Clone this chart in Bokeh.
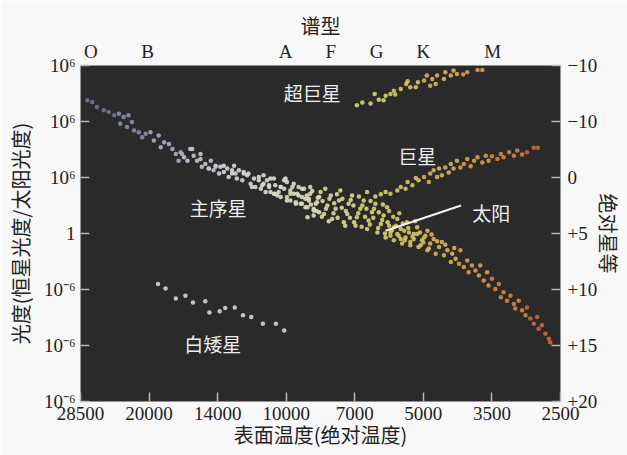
from bokeh.plotting import figure
from bokeh.models import ColumnDataSource, FixedTicker, LinearAxis, Range1d, Label
from bokeh.transform import linear_cmap
from bokeh.embed import file_html
from bokeh.resources import INLINE

# ---------------- data ----------------
temp_ticks = [0, 1, 2, 3, 4, 5, 6, 7]
temp_labels = ["28500", "20000", "14000", "10000", "7000", "5000", "3500", "2500"]
lum_ticks = [0, 1, 2, 3, 4, 5, 6]
lum_labels = ["10⁻⁶", "10⁻⁶", "10⁻⁶", "1", "10⁶", "10⁶", "10⁶"]
mag_labels = ["+20", "+15", "+10", "+5", "0", "−10", "−10"]
spec_classes = ["O", "B", "A", "F", "G", "K", "M"]
spec_pos = [0.15, 0.98, 2.99, 3.65, 4.32, 5.0, 6.01]

# main sequence
ms_x = [0.10, 0.17, 0.24, 0.34, 0.41, 0.49, 0.56, 0.63, 0.70, 0.58, 0.68, 0.75, 0.78, 0.85, 0.90, 0.95,
        1.02, 1.07, 1.14, 1.17, 1.22, 1.29, 1.34, 1.39, 1.46, 1.43, 1.51, 1.56, 1.60, 1.65, 1.70, 1.75,
        1.77, 1.82, 1.87, 1.90, 1.94, 1.97, 2.02, 2.04, 2.09, 2.14, 2.16, 2.21, 2.24, 2.28, 2.31, 2.36,
        2.38, 2.43, 2.48, 2.53, 2.55, 2.60, 2.63, 2.67, 2.70, 2.75, 2.77, 2.82, 2.84, 2.89, 2.92, 2.97,
        2.99, 3.01, 3.06, 3.09, 3.14, 3.16, 3.21, 3.23, 3.26, 3.31, 3.33, 3.35, 3.40, 3.43, 3.48, 3.48,
        3.40, 3.31,
        1.48, 1.63, 1.75, 1.87, 1.97, 2.09, 2.21, 2.26, 2.38, 2.45, 2.50, 2.60, 2.65, 2.72, 2.77, 2.87,
        2.92, 3.01, 3.06, 3.11, 3.18, 3.23, 3.28,
        2.67, 2.75, 2.82, 2.84, 2.92, 2.97, 3.01, 3.06, 3.11, 3.14, 3.18, 3.23, 3.28, 3.33, 3.35, 3.40,
        3.45, 3.50, 3.55, 3.60, 3.65, 3.67, 3.72, 3.77, 3.79, 3.84, 3.89, 3.91, 3.96, 4.01, 4.03, 4.08,
        4.13, 4.18, 4.20, 4.25, 4.30, 4.33, 4.38, 4.42, 4.47, 4.52, 4.57, 4.62, 4.67, 4.72, 4.76, 4.81,
        4.86, 4.91, 4.96, 5.01, 5.06, 5.08,
        4.45, 4.50, 4.52, 4.57, 4.62, 4.67, 4.69, 4.74, 4.79, 4.81, 4.86, 4.91, 4.93, 4.98, 5.03, 5.06,
        5.10, 5.15, 5.18, 5.23, 5.27, 5.30, 5.35, 5.40, 5.42, 5.47, 5.52, 5.54, 5.59, 5.64, 5.66, 5.71,
        5.76, 5.81, 5.83, 5.88, 5.93, 5.95, 6.00, 6.05, 6.10, 6.13, 6.17, 6.22, 6.27, 6.32, 6.34, 6.39,
        6.44, 6.49, 6.51, 6.56, 6.61, 6.66, 6.68, 6.73, 6.78, 6.83, 6.85,
        3.30, 3.36, 3.38, 3.44, 3.46, 3.52, 3.53, 3.57, 3.58, 3.62, 3.63, 3.69, 3.70, 3.74, 3.75, 3.81,
        3.82, 3.86, 3.87, 3.93, 3.94, 3.98, 3.99, 4.05, 4.06, 4.10, 4.11, 4.15, 4.17, 4.22, 4.23, 4.27,
        4.28, 4.34, 4.35, 4.40, 4.41, 4.44, 4.48, 4.50, 4.54, 4.56, 4.60, 4.64, 4.65, 4.70, 4.73, 4.78,
        4.84, 4.88, 4.95, 5.00, 5.12, 5.20, 5.32, 5.45]
ms_y = [5.38, 5.35, 5.26, 5.20, 5.17, 5.11, 5.14, 5.08, 5.11, 4.96, 4.90, 4.99, 4.84, 4.81, 4.72, 4.78,
        4.81, 4.66, 4.75, 4.54, 4.63, 4.60, 4.51, 4.42, 4.45, 4.30, 4.36, 4.30, 4.51, 4.39, 4.30, 4.33,
        4.19, 4.24, 4.16, 4.30, 4.13, 4.21, 4.07, 4.19, 4.10, 4.16, 4.01, 4.07, 4.21, 3.98, 4.13, 3.95,
        4.07, 4.04, 3.89, 3.98, 3.83, 3.95, 3.80, 3.89, 3.74, 3.83, 3.98, 3.71, 3.86, 3.74, 3.65, 3.80,
        3.98, 3.59, 3.71, 3.83, 3.56, 3.71, 3.53, 3.65, 3.80, 3.47, 3.59, 3.71, 3.44, 3.53, 3.65, 3.38,
        3.32, 3.29,
        4.42, 4.51, 4.42, 4.16, 4.19, 4.21, 4.13, 4.07, 4.10, 4.07, 3.83, 4.01, 3.86, 3.95, 3.74, 3.68,
        3.83, 3.92, 3.59, 3.71, 3.83, 3.53, 3.62,
        4.04, 3.86, 3.98, 3.71, 3.83, 3.95, 3.65, 3.77, 3.89, 3.53, 3.68, 3.80, 3.47, 3.62, 3.83, 3.41,
        3.56, 3.74, 3.35, 3.50, 3.68, 3.26, 3.44, 3.59, 3.77, 3.20, 3.35, 3.53, 3.68, 3.14, 3.29, 3.44,
        3.59, 3.08, 3.23, 3.38, 3.53, 3.02, 3.17, 3.32, 3.47, 2.96, 3.11, 3.26, 2.90, 3.05, 3.20, 2.85,
        2.99, 3.11, 2.79, 2.93, 3.05, 2.73,
        2.93, 3.14, 3.02, 2.88, 2.99, 3.08, 2.82, 2.93, 3.02, 2.79, 2.90, 2.99, 2.76, 2.88, 2.96, 2.70,
        2.82, 2.90, 2.64, 2.76, 2.85, 2.61, 2.70, 2.49, 2.64, 2.55, 2.46, 2.70, 2.40, 2.52, 2.31, 2.43,
        2.34, 2.25, 2.43, 2.16, 2.31, 2.07, 2.19, 2.01, 2.10, 1.86, 1.95, 1.80, 1.89, 1.74, 1.66, 1.80,
        1.63, 1.54, 1.68, 1.48, 1.39, 1.51, 1.30, 1.36, 1.21, 1.12, 1.06,
        3.68, 3.52, 3.76, 3.40, 3.64, 3.30, 3.58, 3.80, 3.44, 3.22, 3.62, 3.36, 3.54, 3.70, 3.28, 3.46,
        3.62, 3.14, 3.40, 3.28, 3.60, 3.50, 3.20, 3.36, 3.66, 3.12, 3.50, 3.30, 3.44, 3.16, 3.58, 3.28,
        3.44, 3.10, 3.38, 3.24, 3.52, 3.00, 3.20, 3.40, 3.06, 3.30, 3.14, 2.96, 3.36, 3.18, 2.88, 3.10,
        2.94, 3.22, 3.02, 2.84, 2.98, 2.86, 2.80, 2.74]

# giants
giant_x = [4.18, 4.30, 4.38, 4.45, 4.52, 4.62, 4.67, 4.74, 4.77, 4.84, 4.89, 4.93, 5.01, 5.08, 5.10,
           5.15, 5.20, 5.23, 5.27, 5.32, 5.37, 5.40, 5.44, 5.49, 5.54, 5.59, 5.64, 5.69, 5.74, 5.79,
           5.86, 5.91, 5.95, 6.00, 6.08, 6.13, 6.17, 6.25, 6.32, 6.37, 6.44, 6.51, 6.61, 6.67]
giant_y = [3.74, 3.66, 3.70, 3.74, 3.71, 3.77, 3.83, 3.80, 3.92, 3.86, 3.99, 3.95, 4.01, 3.92, 4.07,
           4.13, 4.01, 4.16, 4.04, 4.18, 4.09, 4.24, 4.16, 4.30, 4.18, 4.24, 4.33, 4.20, 4.30, 4.36,
           4.27, 4.39, 4.30, 4.38, 4.33, 4.42, 4.36, 4.45, 4.39, 4.48, 4.41, 4.45, 4.53, 4.53]

# supergiants
sg_x = [4.03, 4.11, 4.23, 4.29, 4.35, 4.42, 4.45, 4.52, 4.57, 4.59, 4.67, 4.75, 4.77, 4.81, 4.89, 4.92,
        5.01, 5.05, 5.10, 5.13, 5.18, 5.20, 5.30, 5.32, 5.40, 5.44, 5.49, 5.58, 5.64, 5.79, 5.86]
sg_y = [5.29, 5.34, 5.32, 5.49, 5.39, 5.38, 5.46, 5.49, 5.55, 5.48, 5.58, 5.67, 5.72, 5.61, 5.61, 5.70,
        5.73, 5.82, 5.64, 5.76, 5.67, 5.82, 5.76, 5.88, 5.82, 5.91, 5.85, 5.84, 5.88, 5.92, 5.92]

# white dwarfs
wd_x = [1.13, 1.24, 1.39, 1.53, 1.64, 1.82, 1.88, 2.03, 2.11, 2.25, 2.37, 2.49, 2.66, 2.85, 2.97]
wd_y = [2.10, 2.02, 1.84, 1.89, 1.77, 1.79, 1.59, 1.61, 1.67, 1.68, 1.54, 1.51, 1.39, 1.39, 1.27]

region_names = ["超巨星", "巨星", "主序星", "太阳", "白矮星"]
region_x = [3.38, 4.91, 2.01, 5.99, 1.93]
region_y = [5.52, 4.39, 3.46, 3.37, 1.04]
sun_x, sun_y = 4.45, 3.05
sun_label_x, sun_label_y = 5.55, 3.50

x_title = "表面温度(绝对温度)"
y_title = "光度(恒星光度/太阳光度)"
y2_title = "绝对星等"
top_title = "谱型"

# ---------------- styling ----------------
SERIF = "Liberation Serif"
CJK = "Noto Sans CJK SC"
TEXT = "#222222"
TICK = "#b8b8b8"
palette = ["#70749a", "#8a8eb0", "#a8acc4", "#c4c6d0", "#d6d8d6", "#dcdcd0", "#dcdeb8",
           "#d8dc98", "#d6d66e", "#d4c860", "#d8b458", "#d89c4c", "#d48444", "#c86840"]

p = figure(width=627, height=455, x_range=Range1d(0, 7), y_range=Range1d(0, 6),
           output_backend="svg", toolbar_location=None,
           min_border_left=80, min_border_right=67, min_border_top=65, min_border_bottom=54)
p.background_fill_color = "#2a2a2a"
p.border_fill_color = "#f8f8f8"
p.outline_line_color = None
p.xgrid.visible = False
p.ygrid.visible = False


def style_axis(ax, title, tick_standoff, title_standoff):
    ax.axis_line_color = None
    ax.major_tick_line_color = TICK
    ax.major_tick_line_width = 1.5
    ax.major_tick_in = 9
    ax.major_tick_out = 0
    ax.minor_tick_line_color = None
    ax.major_label_text_font = SERIF
    ax.major_label_text_font_size = "19px"
    ax.major_label_text_color = TEXT
    ax.major_label_standoff = tick_standoff
    ax.axis_label = title
    ax.axis_label_standoff = title_standoff
    ax.axis_label_text_font = CJK
    ax.axis_label_text_font_size = "20px"
    ax.axis_label_text_font_style = "normal"
    ax.axis_label_text_color = TEXT


xa = p.xaxis[0]
style_axis(xa, x_title, 5, -3)
xa.ticker = FixedTicker(ticks=temp_ticks)
xa.major_label_overrides = {t: l for t, l in zip(temp_ticks, temp_labels)}

ya = p.yaxis[0]
style_axis(ya, y_title, 5, 6)
ya.ticker = FixedTicker(ticks=lum_ticks)
ya.major_label_overrides = {t: l for t, l in zip(lum_ticks, lum_labels)}

ra = LinearAxis()
style_axis(ra, y2_title, 7, -6)
ra.ticker = FixedTicker(ticks=lum_ticks)
ra.major_label_overrides = {t: l for t, l in zip(lum_ticks, mag_labels)}
p.add_layout(ra, "right")

ta = LinearAxis()
style_axis(ta, top_title, 4, -2)
ta.ticker = FixedTicker(ticks=spec_pos)
ta.major_label_overrides = {t: l for t, l in zip(spec_pos, spec_classes)}
ta.major_tick_in = 0
p.add_layout(ta, "above")

cmap = linear_cmap("x", palette, 0, 7)
for xs, ys in [(ms_x, ms_y), (giant_x, giant_y), (sg_x, sg_y)]:
    src = ColumnDataSource(dict(x=xs, y=ys))
    p.scatter("x", "y", source=src, size=4.5, fill_color=cmap, line_color=None, fill_alpha=0.9)

p.scatter(wd_x, wd_y, size=4.5, fill_color="#d4d4d4", line_color=None, fill_alpha=0.9)

p.segment(x0=[sun_x], y0=[sun_y], x1=[sun_label_x], y1=[sun_label_y],
          line_color="#f4f4f4", line_width=2)

for name, lx, ly in zip(region_names, region_x, region_y):
    p.add_layout(Label(x=lx, y=ly, text=name, text_align="center", text_baseline="middle",
                       text_font=CJK, text_font_size="19px", text_color="#ededed"))

open("out.html", "w").write(file_html(p, INLINE))
